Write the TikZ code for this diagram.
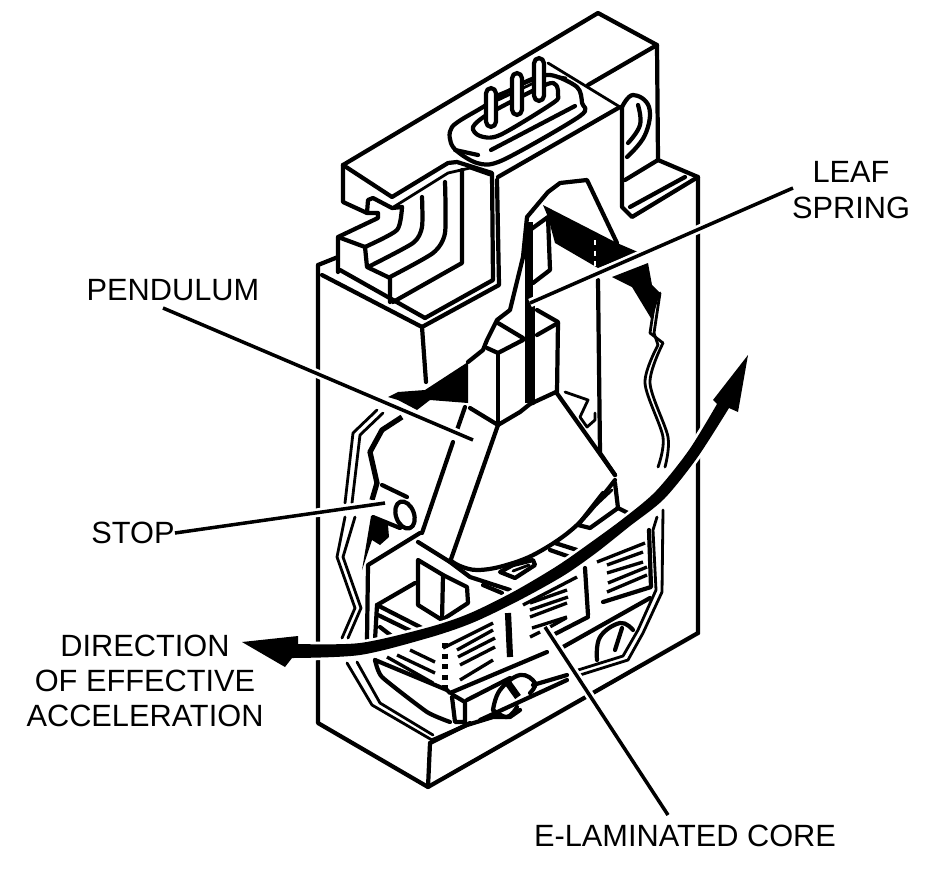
\documentclass[tikz,border=0pt]{standalone}
\usepackage{fontspec}
\setmainfont{Liberation Sans}
\begin{document}
\tikzset{
    heavy/.style={line width=2.4pt, line join=round, line cap=round},
    light/.style={line width=1.6pt, line join=round, line cap=round},
    hatch/.style={line width=1.9pt, line cap=butt},
    leader/.style={line width=2pt, preaction={draw=white, line width=5pt}},
    tag/.style={font=\fontsize{17.5}{20}\selectfont, align=center, inner sep=0pt}
}
\begin{tikzpicture}[x=0.02cm, y=-0.02cm]
    \useasboundingbox (0,0) rectangle (952,876);

    % Top block
    \draw[heavy] (343,165) -- (598,13) -- (657,45) -- (658,160) -- (698,177) -- (698,633);
    \draw[heavy] (343,165) -- (392,197) -- (448,163) -- (457,162) -- (492,173) -- (493,280) -- (425,318);
    \draw[heavy] (498,177) -- (620,107);
    \draw[heavy] (588,85) -- (657,45);
    \draw[light] (548,63) -- (620,107);
    \draw[light] (548,75) -- (566,78);
    \draw[heavy] (497,180) -- (499,285) -- (422,327);
    \draw[heavy] (343,165) -- (343,202) -- (367,213) -- (368,200) -- (373,198) -- (392,208) -- (402,207);
    \draw[heavy] (367,213) -- (378,213) -- (378,218) -- (338,237) -- (338,272);
    \draw[heavy] (338,237) -- (365,247) -- (367,267) -- (390,278) -- (390,302);

    % Stepped faces
    \draw[heavy] plot[smooth, tension=0.4] coordinates {(365,247) (397,230) (402,207)};
    \draw[heavy] plot[smooth, tension=0.4] coordinates {(368,267) (413,243) (422,227) (422,197)};
    \draw[heavy] plot[smooth, tension=0.4] coordinates {(390,277) (433,253) (445,233) (445,182)};
    \draw[heavy] (393,302) -- (462,263) -- (462,170);
    \draw[light] (392,208) -- (448,173) -- (470,168) -- (490,175);

    % Connector plate
    \draw[heavy, fill=white] plot[smooth cycle, tension=0.5] coordinates {
        (452,127) (483,107) (523,83) (550,75) (577,87) (582,103) (580,116) (503,160) (477,163) (453,147)
    };
    \draw[heavy] (455,150) -- (478,155);
    \draw[heavy] (491,150) -- (575,106);
    \draw[heavy] plot[smooth cycle, tension=0.5] coordinates {
        (473,127) (490,113) (545,85) (556,85) (558,95) (553,103) (500,135) (480,136)
    };
    % Pins
    \draw[light] (498,100) -- (540,80);
    \draw[light] (497,95) -- (533,80);
    \foreach \x/\t/\b in {491/88/127, 517/73/115, 539/58/101}
        \draw[heavy, fill=white, rounded corners=3pt] (\x-5,\t) rectangle (\x+5,\b);

    % Right upright with hole
    \draw[heavy] (622,107) -- (622,207) -- (632,217) -- (698,177);
    \draw[heavy] (625,180) -- (658,160);
    \draw[heavy] (630,207) -- (685,177);
    \draw[heavy] plot[smooth, tension=0.7] coordinates {(622,107) (633,95) (649,107) (645,135) (627,157)};
    \draw[heavy] plot[smooth, tension=0.7] coordinates {(628,143) (640,125) (638,105)};

    % Lower body
    \draw[heavy] (318,265) -- (338,257);
    \draw[heavy] (318,265) -- (318,723) -- (428,787) -- (698,633);
    \draw[heavy] (430,743) -- (428,787);
    \draw[heavy] (430,743) -- (470,723);
    \draw[heavy] (322,275) -- (422,327) -- (426,382);
    \draw[heavy] (425,318) -- (340,270);

    % Torn edge of the casing
    \draw[heavy] (617,243) -- (587,180) -- (560,183) -- (548,192) -- (527,217) -- (523,257) -- (510,310) -- (497,320) -- (487,340) -- (483,350) -- (468,362);

    % Leaf spring
    \draw[heavy] (530,230) -- (548,217) -- (550,270) -- (533,283);
    \draw[line width=4pt] (529,222) -- (529,403);
    \draw[heavy] (533,300) -- (533,403);
    \fill (543,205) -- (617,243) -- (638,252) -- (598,268) -- (555,243) -- (548,217) -- cycle;
    \fill (612,277) -- (648,263) -- (652,285) -- (660,293) -- (652,320) -- (632,287) -- cycle;
    \draw[white, line width=1pt, dashed] (595,240) -- (595,270);
    \draw[heavy] (598,280) -- (600,453) -- (615,475);
    \draw[light] plot coordinates {(656,293) (650,333) (663,343)};
    \draw[light] plot coordinates {(660,293) (654,333) (658,345)};
    \draw[light] plot[smooth, tension=0.5] coordinates {(663,343) (650,383) (668,437) (665,467)};
    \draw[light] plot[smooth, tension=0.5] coordinates {(658,345) (645,383) (663,437) (658,467)};

    % Pendulum column
    \draw[heavy] (537,310) -- (558,322) -- (557,392);
    \draw[heavy] (537,335) -- (558,323);
    \draw[heavy] (487,348) -- (498,353) -- (523,340);
    \draw[heavy] (498,323) -- (523,338);
    \draw[heavy] (498,353) -- (498,425);
    \draw[heavy] (470,408) -- (498,425) -- (520,412) -- (530,404) -- (556,392);
    \fill (468,362) -- (468,403) -- (430,400) -- (417,410) -- (398,400) -- (388,397) -- (398,392) -- (425,390) -- cycle;

    % Pendulum fan
    \draw[heavy] (498,425) -- (450,562);
    \draw[heavy] (556,392) -- (615,475);
    \draw[heavy] plot[smooth, tension=0.6] coordinates {(450,560) (460,566) (477,570) (503,566) (537,553) (577,525) (615,480)};
    \draw[heavy] (465,407) -- (457,430);
    \draw[heavy] (453,442) -- (422,533);
    \draw[heavy] (418,542) -- (450,562) -- (470,577) -- (510,590);
    \draw[heavy] (420,533) -- (368,565) -- (367,640);
    \draw[light] plot coordinates {(565,392) (588,400) (580,417) (587,427) (595,420) (595,413)};
    \draw[heavy] (615,483) -- (618,508) -- (590,528) -- (578,525) -- (603,493);
    \draw[light] (596,505) -- (612,490);
    \draw[heavy] (618,508) -- (628,513);
    \draw[heavy] (555,543) -- (577,550);
    \draw[heavy] (550,550) -- (570,557);
    \draw[heavy] (500,572) -- (513,565) -- (533,560) -- (535,565) -- (515,578) -- cycle;
    \draw[light] (513,571) -- (529,565);
    \draw[heavy] (483,585) -- (502,593);

    % Stop
    \draw[heavy] (382,485) -- (407,497);
    \draw[heavy] (373,517) -- (400,528);
    \draw[heavy, rotate around={20:(405,515)}] (405,515) ellipse (9 and 14);
    \fill (371,516) -- (388,525) -- (389,537) -- (380,545) -- (372,540) -- (362,570) -- cycle;

    % Left cut-away strokes
    \draw[light] plot coordinates {(377,410) (353,433) (345,503)};
    \draw[light] plot coordinates {(383,413) (360,435) (352,503)};
    \draw[line width=3pt, line join=round] plot coordinates {(402,417) (382,430) (370,452) (377,483) (372,500)};
    \draw[light] plot coordinates {(345,517) (337,557) (355,608) (342,638)};
    \draw[light] plot coordinates {(355,517) (343,557) (361,608) (348,638)};
    \draw[light] plot coordinates {(347,663) (372,705) (432,740)};
    \draw[light] plot coordinates {(357,662) (380,703) (433,735)};

    % Core block
    \draw[heavy] (377,605) -- (415,583);
    \draw[heavy, fill=white] (418,560) -- (418,605) -- (442,620) -- (468,603) -- (467,587) -- (443,575) -- cycle;
    \draw[heavy] (443,575) -- (442,620);
    \draw[heavy] (377,605) -- (422,628);
    \draw[heavy] (377,605) -- (375,640);
    \draw[heavy] (378,615) -- (413,632);
    \draw[heavy] (380,627) -- (393,637);

    % Laminations
    \foreach \a/\b/\c/\d in {387/657/433/683, 397/655/435/673, 410/650/435/662}
        \draw[hatch] (\a,\b) -- (\c,\d);
    \foreach \a/\b/\c/\d in {443/648/493/623, 457/650/493/630, 458/657/495/638, 460/665/495/647, 460/680/493/660}
        \draw[hatch] (\a,\b) -- (\c,\d);
    \foreach \a/\b/\c/\d in {523/605/577/577, 530/603/567/590, 530/610/568/597, 530/617/567/603, 532/628/567/617, 530/637/540/632, 548/628/566/618}
        \draw[hatch] (\a,\b) -- (\c,\d);
    \foreach \a/\b/\c/\d in {597/562/645/543, 607/565/643/552, 607/573/643/562, 608/583/647/567, 607/592/647/575}
        \draw[hatch] (\a,\b) -- (\c,\d);
    \draw[line width=3.5pt] (508,613) -- (510,657);
    \draw[heavy] (585,568) -- (588,615);
    \draw[line width=3pt, dash pattern=on 3pt off 3pt] (445,643) -- (445,688);

    % Core front and casing outline
    \draw[heavy] (375,660) -- (447,690) -- (450,693) -- (547,652);
    \draw[heavy] (563,647) -- (650,598);
    \draw[heavy] (553,635) -- (588,617);
    \draw[heavy] (603,602) -- (651,587) -- (649,530);
    \draw[light] plot coordinates {(663,510) (662,592) (643,633) (628,660) (580,675)};
    \draw[light] plot coordinates {(657,517) (653,530) (656,590) (638,630) (623,656) (578,670)};
    \draw[heavy] plot[smooth, tension=0.3] coordinates {(375,660) (382,677) (427,712) (450,722)};
    \draw[heavy] (453,695) -- (465,702) -- (465,722) -- (455,722) -- (452,697);
    \draw[heavy] (467,700) -- (510,678);
    \draw[heavy] (533,685) -- (567,675);
    \draw[heavy] (480,720) -- (567,680);
    \draw[heavy] (433,740) -- (467,725) -- (493,717) -- (510,717) -- (520,710);

    % Screws
    \draw[heavy] plot[smooth, tension=0.7] coordinates {(493,710) (500,690) (520,675) (535,683) (530,693)};
    \draw[heavy] plot[smooth, tension=0.7] coordinates {(493,710) (507,717) (517,707)};
    \draw[line width=4pt] (508,683) -- (518,697);
    \draw[heavy] plot[smooth, tension=0.7] coordinates {(597,660) (600,637) (620,623) (633,630)};
    \draw[heavy] (622,628) -- (615,650);

    % Direction arrow
    \fill[preaction={draw=white, line width=3pt}] (242,642) -- (298,636) -- (298,644)
        -- plot[smooth] coordinates {(298,644) (360,643) (426,628) (468,614) (513,592) (557,566) (590,543) (624,518) (656,491) (689,450) (717,404)}
        -- (713,400) -- (748,355) -- (738,412) -- (729,408)
        -- plot[smooth] coordinates {(729,408) (697,458) (664,499) (630,526) (596,553) (563,576) (518,601) (472,623) (428,638) (360,655) (292,658)}
        -- (285,667) -- cycle;

    % Labels
    \node[tag] (leaftag) at (851,190) {LEAF\\SPRING};
    \node[tag] (pendulumtag) at (173,290) {PENDULUM};
    \node[tag] (stoptag) at (133,533) {STOP};
    \node[tag] (directiontag) at (145,681) {DIRECTION\\OF EFFECTIVE\\ACCELERATION};
    \node[tag] (coretag) at (685,836) {E-LAMINATED CORE};

    % Leaders
    \coordinate (leafend) at (530,303);
    \coordinate (pendulumend) at (473,440);
    \coordinate (stopend) at (385,503);
    \coordinate (coreend) at (545,627);
    \coordinate (corestart) at (668,815);
    \draw[leader] (793,188) -- (leafend);
    \draw[leader] (163,308) -- (pendulumend);
    \draw[leader] (stoptag.east) -- (stopend);
    \draw[leader] (corestart) -- (coreend);
\end{tikzpicture}
\end{document}
